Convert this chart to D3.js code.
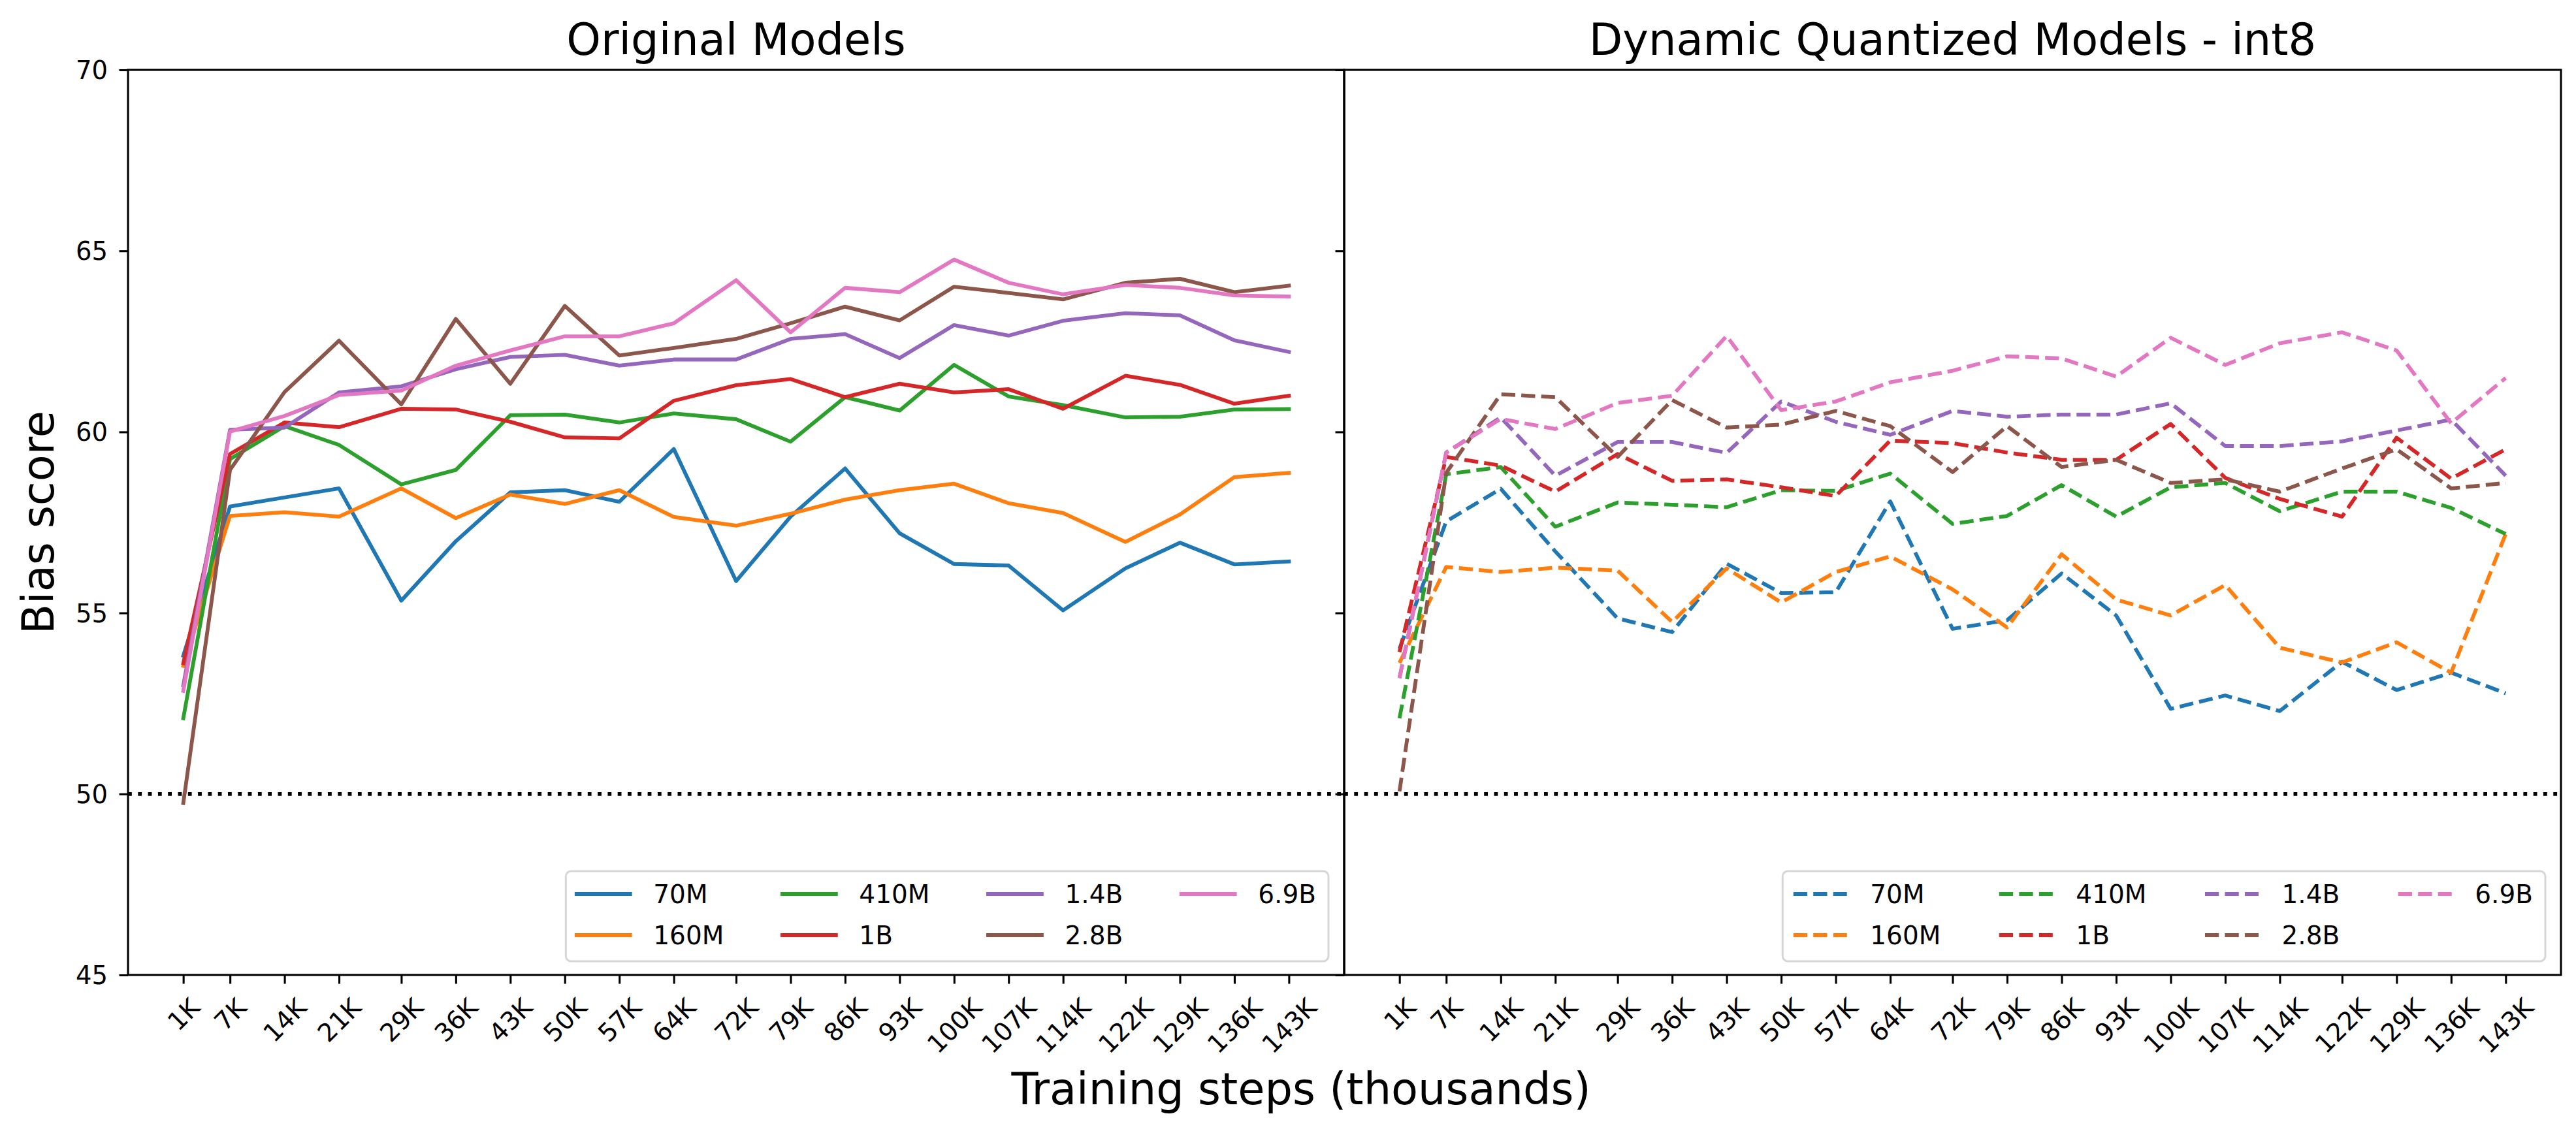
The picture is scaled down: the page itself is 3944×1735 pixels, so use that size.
<!DOCTYPE html>
<html>
<head>
<meta charset="utf-8">
<script src="https://cdn.jsdelivr.net/npm/d3@7"></script>
<style>
  body { margin: 0; background: #fff; }
  svg { display: block; font-family: "DejaVu Sans", sans-serif; }
</style>
</head>
<body>
<div id="chart"></div>
<script>
// training steps (thousands) and their tick labels
const steps = [1, 7, 14, 21, 29, 36, 43, 50, 57, 64, 72, 79, 86, 93, 100, 107, 114, 122, 129, 136, 143];
const stepLabels = ["1K", "7K", "14K", "21K", "29K", "36K", "43K", "50K", "57K", "64K", "72K",
  "79K", "86K", "93K", "100K", "107K", "114K", "122K", "129K", "136K", "143K"];
const yTicks = [45, 50, 55, 60, 65, 70];

const models = ["70M", "160M", "410M", "1B", "1.4B", "2.8B", "6.9B"];
const colors = ["#1f77b4", "#ff7f0e", "#2ca02c", "#d62728", "#9467bd", "#8c564b", "#e377c2"];

// Original models
const orig70M = [53.82, 57.94, 58.19, 58.44, 55.34, 56.98, 58.33, 58.39, 58.07, 59.53, 55.88, 57.66, 58.99, 57.2, 56.35, 56.31, 55.07, 56.23, 56.94, 56.34, 56.42];
const orig160M = [53.54, 57.68, 57.78, 57.66, 58.44, 57.62, 58.27, 58.01, 58.39, 57.65, 57.41, 57.74, 58.13, 58.39, 58.57, 58.03, 57.76, 56.96, 57.72, 58.75, 58.87];
const orig410M = [52.09, 59.25, 60.16, 59.64, 58.55, 58.95, 60.46, 60.48, 60.26, 60.51, 60.35, 59.73, 60.96, 60.59, 61.85, 60.98, 60.74, 60.4, 60.42, 60.62, 60.63];
const orig1B = [53.61, 59.39, 60.26, 60.13, 60.64, 60.62, 60.28, 59.85, 59.82, 60.86, 61.29, 61.46, 60.96, 61.33, 61.09, 61.18, 60.64, 61.55, 61.3, 60.78, 61.0];
const orig1_4B = [53.0, 60.06, 60.12, 61.09, 61.26, 61.73, 62.07, 62.13, 61.83, 62.0, 62.0, 62.57, 62.7, 62.04, 62.95, 62.66, 63.07, 63.28, 63.22, 62.53, 62.21];
const orig2_8B = [49.75, 58.95, 61.1, 62.52, 60.76, 63.12, 61.33, 63.48, 62.11, 62.32, 62.57, 63.0, 63.46, 63.08, 64.01, 63.84, 63.66, 64.12, 64.23, 63.86, 64.04];
const orig6_9B = [52.85, 60.01, 60.44, 61.02, 61.14, 61.83, 62.25, 62.64, 62.64, 63.0, 64.19, 62.75, 63.98, 63.86, 64.76, 64.12, 63.8, 64.06, 63.98, 63.77, 63.74];

// Dynamic quantized models - int8
const int8_70M = [54.01, 57.53, 58.43, 56.7, 54.85, 54.47, 56.36, 55.55, 55.57, 58.08, 54.56, 54.8, 56.09, 54.93, 52.35, 52.72, 52.29, 53.65, 52.87, 53.35, 52.78];
const int8_160M = [53.62, 56.27, 56.13, 56.25, 56.17, 54.75, 56.23, 55.29, 56.13, 56.56, 55.65, 54.6, 56.62, 55.37, 54.93, 55.77, 54.04, 53.63, 54.19, 53.35, 57.18];
const int8_410M = [52.09, 58.83, 59.03, 57.38, 58.05, 57.99, 57.92, 58.39, 58.37, 58.85, 57.46, 57.68, 58.53, 57.66, 58.47, 58.59, 57.81, 58.35, 58.35, 57.9, 57.18];
const int8_1B = [53.92, 59.31, 59.07, 58.35, 59.39, 58.65, 58.69, 58.47, 58.23, 59.76, 59.69, 59.43, 59.23, 59.23, 60.22, 58.73, 58.15, 57.66, 59.84, 58.71, 59.52];
const int8_1_4B = [53.2, 59.43, 60.4, 58.79, 59.72, 59.72, 59.42, 60.84, 60.28, 59.92, 60.58, 60.42, 60.48, 60.48, 60.79, 59.61, 59.61, 59.74, 60.04, 60.34, 58.79];
const int8_2_8B = [50.07, 58.87, 61.04, 60.96, 59.31, 60.88, 60.12, 60.2, 60.58, 60.16, 58.89, 60.16, 59.03, 59.23, 58.59, 58.69, 58.35, 58.99, 59.52, 58.44, 58.59];
const int8_6_9B = [53.2, 59.43, 60.36, 60.08, 60.8, 61.0, 62.65, 60.6, 60.84, 61.37, 61.69, 62.09, 62.03, 61.53, 62.6, 61.85, 62.45, 62.75, 62.25, 60.24, 61.49];

const origSeries = [orig70M, orig160M, orig410M, orig1B, orig1_4B, orig2_8B, orig6_9B];
const int8Series = [int8_70M, int8_160M, int8_410M, int8_1B, int8_1_4B, int8_2_8B, int8_6_9B];

// sizes
const w = 3944;
const h = 1735;
const plotTop = 107;
const plotBottom = 1493;
const tickFont = 38.5;
const legendFont = 39;
const bigFont = 67;
const lw = 5.8;      // 1.5pt line
const spineW = 3.1;  // 0.8pt
const tickLen = 13.5;

const panels = [
  { title: "Original Models", left: 196, right: 2058, series: origSeries, dash: null, yLabels: true },
  { title: "Dynamic Quantized Models - int8", left: 2058, right: 3921, series: int8Series, dash: "21.3,9.2", yLabels: false },
];

const svg = d3.select("#chart").append("svg").attr("width", w).attr("height", h);

const y = d3.scaleLinear().domain([45, 70]).range([plotBottom, plotTop]);

// matplotlib style 5% x margins
const span = steps[steps.length - 1] - steps[0];
const xDomain = [steps[0] - span * 0.05, steps[steps.length - 1] + span * 0.05];

panels.forEach((p) => {
  const x = d3.scaleLinear().domain(xDomain).range([p.left, p.right]);
  const g = svg.append("g");

  // reference line at 50
  g.append("line")
    .attr("x1", p.left).attr("x2", p.right)
    .attr("y1", y(50)).attr("y2", y(50))
    .attr("stroke", "#000")
    .attr("stroke-width", lw)
    .attr("stroke-dasharray", "5.8,9.5");

  // series
  const line = d3.line().x((d, i) => x(steps[i])).y((d) => y(d));
  p.series.forEach((s, k) => {
    g.append("path")
      .datum(s)
      .attr("d", line)
      .attr("fill", "none")
      .attr("stroke", colors[k])
      .attr("stroke-width", lw)
      .attr("stroke-linejoin", "round")
      .attr("stroke-linecap", p.dash ? "butt" : "square")
      .attr("stroke-dasharray", p.dash);
  });

  // x axis
  const xAxis = d3.axisBottom(x)
    .tickValues(steps)
    .tickFormat((d, i) => stepLabels[i])
    .tickSize(tickLen)
    .tickSizeOuter(0);
  const gx = g.append("g")
    .attr("transform", `translate(0,${plotBottom})`)
    .call(xAxis)
    .attr("font-size", null)
    .attr("font-family", null);
  gx.select(".domain").remove();
  gx.selectAll(".tick line").attr("stroke", "#000").attr("stroke-width", spineW);
  gx.selectAll(".tick text")
    .attr("fill", "#000")
    .style("font-size", tickFont + "px")
    .each(function () {
      const tw = this.getComputedTextLength();
      const th = tickFont * 1.164;
      const cy = tickLen + 13.5 + ((tw + th) * Math.SQRT1_2) / 2;
      d3.select(this)
        .attr("x", 0)
        .attr("y", cy)
        .attr("dy", null)
        .attr("text-anchor", "middle")
        .attr("dominant-baseline", "central")
        .attr("transform", `rotate(-45,0,${cy})`);
    });

  // y axis
  const yAxis = d3.axisLeft(y)
    .tickValues(yTicks)
    .tickSize(tickLen)
    .tickSizeOuter(0)
    .tickPadding(17.5)
    .tickFormat(p.yLabels ? d3.format("d") : () => "");
  const gy = g.append("g")
    .attr("transform", `translate(${p.left},0)`)
    .call(yAxis)
    .attr("font-size", null)
    .attr("font-family", null);
  gy.select(".domain").remove();
  gy.selectAll(".tick line").attr("stroke", "#000").attr("stroke-width", spineW);
  gy.selectAll(".tick text")
    .attr("fill", "#000")
    .attr("dy", "0.35em")
    .style("font-size", tickFont + "px");

  // frame
  g.append("rect")
    .attr("x", p.left).attr("y", plotTop)
    .attr("width", p.right - p.left)
    .attr("height", plotBottom - plotTop)
    .attr("fill", "none")
    .attr("stroke", "#000")
    .attr("stroke-width", spineW);

  // title
  g.append("text")
    .attr("x", (p.left + p.right) / 2)
    .attr("y", 84)
    .attr("text-anchor", "middle")
    .style("font-size", bigFont + "px")
    .text(p.title);

  // legend, 4 columns, lower right
  const leg = g.append("g");
  const boxBottom = plotBottom - 21;
  const boxTop = boxBottom - 138;
  const rowY = [boxTop + 35, boxTop + 98];
  const handleLen = 82;
  const textGap = 35.5;
  const colGap = 89.5;
  const ncol = 4;
  const nrow = 2;

  // measure label widths
  const probe = svg.append("text").style("font-size", legendFont + "px");
  const widths = models.map((m) => {
    probe.text(m);
    return probe.node().getComputedTextLength();
  });
  probe.remove();

  const colX = [];
  let cx = 16.5;
  for (let c = 0; c < ncol; c++) {
    colX.push(cx);
    const ids = [c * nrow, c * nrow + 1].filter((i) => i < models.length);
    const maxW = d3.max(ids, (i) => widths[i]);
    cx += handleLen + textGap + maxW + (c < ncol - 1 ? colGap : 0);
  }
  const boxW = cx + 19;
  const boxLeft = p.right - 24 - boxW;

  leg.append("rect")
    .attr("x", boxLeft).attr("y", boxTop)
    .attr("width", boxW).attr("height", boxBottom - boxTop)
    .attr("rx", 8).attr("ry", 8)
    .attr("fill", "#fff").attr("fill-opacity", 0.8)
    .attr("stroke", "#cccccc").attr("stroke-opacity", 0.8)
    .attr("stroke-width", 3);

  models.forEach((m, i) => {
    const c = Math.floor(i / nrow);
    const r = i % nrow;
    const hx = boxLeft + colX[c];
    leg.append("line")
      .attr("x1", hx).attr("x2", hx + handleLen)
      .attr("y1", rowY[r]).attr("y2", rowY[r])
      .attr("stroke", colors[i])
      .attr("stroke-width", lw)
      .attr("stroke-linecap", p.dash ? "butt" : "square")
      .attr("stroke-dasharray", p.dash);
    leg.append("text")
      .attr("x", hx + handleLen + textGap)
      .attr("y", rowY[r] + legendFont * 0.729 / 2)
      .style("font-size", legendFont + "px")
      .text(m);
  });
});

// axis labels
svg.append("text")
  .attr("x", 1992)
  .attr("y", 1691)
  .attr("text-anchor", "middle")
  .style("font-size", bigFont + "px")
  .text("Training steps (thousands)");

svg.append("text")
  .attr("transform", `translate(82,${(plotTop + plotBottom) / 2}) rotate(-90)`)
  .attr("text-anchor", "middle")
  .style("font-size", bigFont + "px")
  .text("Bias score");
</script>
</body>
</html>
